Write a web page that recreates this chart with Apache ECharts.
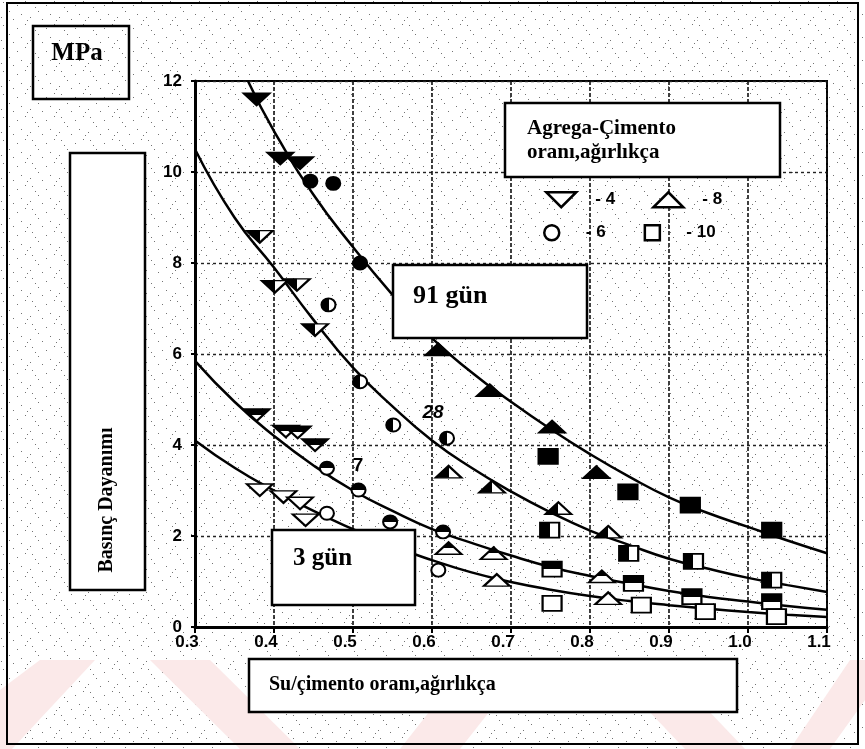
<!DOCTYPE html>
<html><head><meta charset="utf-8">
<script src="https://cdn.jsdelivr.net/npm/echarts@6/dist/echarts.min.js"></script>
<style>html,body{margin:0;padding:0;background:#fff}#c{width:865px;height:749px}</style>
</head><body><div id="c"></div>
<script>
// ---- tick labels ----
const xTickLabels = ['0.3','0.4','0.5','0.6','0.7','0.8','0.9','1.0','1.1'];
const yTickLabels = ['0','2','4','6','8','10','12'];

// ---- fitted curves ----
const curveX = [0.30,0.35,0.40,0.45,0.50,0.55,0.60,0.65,0.70,0.75,0.80,0.85,0.90,0.95,1.00,1.05,1.10];
const c91X = [0.367,0.40,0.45,0.50,0.55,0.60,0.65,0.70,0.75,0.80,0.85,0.90,0.95,1.00,1.05,1.10];
const c91Y = [12.0,10.9,9.5,8.35,7.3,6.35,5.6,4.95,4.35,3.8,3.3,2.85,2.5,2.2,1.9,1.62];
const c28Y = [10.5,9.0,7.9,6.75,5.7,4.85,4.1,3.5,2.98,2.52,2.12,1.8,1.5,1.28,1.08,0.92,0.77];
const c7Y  = [5.85,4.95,4.2,3.55,3.0,2.55,2.15,1.85,1.57,1.32,1.12,0.95,0.79,0.66,0.56,0.46,0.38];
const c3Y  = [4.1,3.5,3.0,2.55,2.15,1.78,1.47,1.2,0.99,0.82,0.68,0.57,0.48,0.4,0.33,0.27,0.22];

// ---- measured points: [w/c, MPa] by age (days) and aggregate/cement ratio ----
const m91_r4  = [[0.378,11.6],[0.408,10.3],[0.433,10.2]];
const m91_r6  = [[0.446,9.8],[0.475,9.75],[0.509,8.0]];
const m91_r8  = [[0.608,6.1],[0.673,5.2],[0.752,4.4],[0.808,3.4]];
const m91_r10 = [[0.747,3.75],[0.848,2.97],[0.927,2.68],[1.03,2.13]];

const m28_r4  = [[0.382,8.58],[0.401,7.48],[0.429,7.52],[0.452,6.53]];
const m28_r6  = [[0.469,7.08],[0.509,5.39],[0.551,4.44],[0.619,4.15]];
const m28_r8  = [[0.621,3.41],[0.676,3.08],[0.76,2.61],[0.823,2.09]];
const m28_r10 = [[0.749,2.13],[0.849,1.62],[0.931,1.44],[1.03,1.03]];

const m7_r4  = [[0.378,4.66],[0.415,4.3],[0.43,4.28],[0.452,4.0]];
const m7_r6  = [[0.467,3.49],[0.507,3.01],[0.547,2.31],[0.614,2.09]];
const m7_r8  = [[0.621,1.73],[0.678,1.62],[0.815,1.11]];
const m7_r10 = [[0.752,1.27],[0.855,0.96],[0.929,0.67],[1.03,0.56]];

const m3_r4  = [[0.382,3.01],[0.412,2.86],[0.433,2.72],[0.44,2.35]];
const m3_r6  = [[0.467,2.5],[0.608,1.25]];
const m3_r8  = [[0.682,1.03],[0.823,0.63]];
const m3_r10 = [[0.752,0.52],[0.865,0.48],[0.946,0.34],[1.036,0.23]];

// ---- build ----
const zip = (xs, ys) => xs.map((x, i) => [x, ys[i]]);
const DOWN = 'path://M0,0L2,0L1,1Z';
const UP = 'path://M1,0L2,1L0,1Z';
const SQ = 'path://M0,0L1,0L1,1L0,1Z';
const symbols = {
  '4':  {symbol: DOWN, size: [26, 12]},
  '6':  {symbol: 'circle', size: [14, 13]},
  '8':  {symbol: UP, size: [26, 12]},
  '10': {symbol: SQ, size: [19, 15]}
};
const split = (x2, y2) => ({type: 'linear', x: 0, y: 0, x2: x2, y2: y2, colorStops: [
  {offset: 0, color: '#000'}, {offset: 0.5, color: '#000'},
  {offset: 0.5, color: '#fff'}, {offset: 1, color: '#fff'}]});
const fills = {'91': '#000', '28': split(1, 0), '7': split(0, 1), '3': '#fff'};
const groups = [
  ['91', {'4': m91_r4, '6': m91_r6, '8': m91_r8, '10': m91_r10}],
  ['28', {'4': m28_r4, '6': m28_r6, '8': m28_r8, '10': m28_r10}],
  ['7',  {'4': m7_r4,  '6': m7_r6,  '8': m7_r8,  '10': m7_r10}],
  ['3',  {'4': m3_r4,  '6': m3_r6,  '8': m3_r8,  '10': m3_r10}]
];

const lineStyle = {color: '#000', width: 2.5};
const series = [
  {type: 'line', name: 'c91', data: zip(c91X, c91Y), smooth: true, symbol: 'none', lineStyle, silent: true, z: 3},
  {type: 'line', name: 'c28', data: zip(curveX, c28Y), smooth: true, symbol: 'none', lineStyle, silent: true, z: 3},
  {type: 'line', name: 'c7',  data: zip(curveX, c7Y),  smooth: true, symbol: 'none', lineStyle, silent: true, z: 3},
  {type: 'line', name: 'c3',  data: zip(curveX, c3Y),  smooth: true, symbol: 'none', lineStyle, silent: true, z: 3}
];
groups.forEach(([age, byRatio]) => {
  Object.keys(byRatio).forEach(r => {
    series.push({
      type: 'scatter', name: r, data: byRatio[r],
      symbol: symbols[r].symbol, symbolSize: symbols[r].size,
      itemStyle: {color: fills[age], borderColor: '#000', borderWidth: 2, opacity: 1},
      z: 4
    });
  });
});

const legendBase = {
  orient: 'horizontal', itemWidth: 30, itemHeight: 15, itemGap: 37,
  selectedMode: false, formatter: '- {name}',
  textStyle: {fontFamily: 'Liberation Sans', fontWeight: 'bold', fontSize: 17, color: '#000', padding: [0, 0, 0, 14]},
  itemStyle: {color: '#fff', borderColor: '#000', borderWidth: 2.5}
};

// faint scan speckle (decorative background texture)
const speck = document.createElement('canvas');
speck.width = 29; speck.height = 23;
(function () {
  const g = speck.getContext('2d');
  g.fillStyle = '#fff'; g.fillRect(0, 0, 29, 23);
  g.fillStyle = 'rgba(0,0,0,0.55)';
  [[3,2],[17,5],[25,1],[9,11],[21,14],[1,17],[13,19],[27,20],[6,7]].forEach(p => g.fillRect(p[0], p[1], 1, 1));
})();

const box = (x, y, w, h, fill) => ({type: 'rect', z: 100, shape: {x, y, width: w, height: h},
  style: {fill: fill || '#fff', stroke: '#000', lineWidth: 2.5}});
const txt = (x, y, text, size) => ({type: 'text', z: 101, x, y,
  style: {text, fill: '#000', font: 'bold ' + size + 'px "Liberation Serif"', textVerticalAlign: 'middle'}});

const pink = '#fbe9e9';
const stripe = (pts) => ({type: 'polygon', z: -1, silent: true, shape: {points: pts}, style: {fill: pink}});

const chart = echarts.init(document.getElementById('c'), null, {renderer: 'canvas'});
chart.setOption({
  animation: false,
  backgroundColor: {image: speck, repeat: 'repeat'},
  grid: {left: 195, top: 81, right: 38, bottom: 122, show: true, borderColor: '#000', borderWidth: 2, backgroundColor: 'transparent'},
  xAxis: {
    type: 'value', min: 0.3, max: 1.1, interval: 0.1,
    axisLine: {lineStyle: {color: '#000', width: 3}},
    axisTick: {show: true, length: 6, lineStyle: {color: '#000', width: 2}},
    axisLabel: {color: '#000', fontFamily: 'Liberation Sans', fontWeight: 'bold', fontSize: 17, margin: 7,
      padding: [0, 16, 0, 0],
      formatter: v => xTickLabels[Math.round((v - 0.3) / 0.1)]},
    splitLine: {show: true, lineStyle: {color: '#111', width: 1.6, type: [4, 2]}}
  },
  yAxis: {
    type: 'value', min: 0, max: 12, interval: 2,
    axisLine: {show: true, lineStyle: {color: '#000', width: 3}},
    axisTick: {show: true, length: 4, lineStyle: {color: '#000', width: 2}},
    axisLabel: {color: '#000', fontFamily: 'Liberation Sans', fontWeight: 'bold', fontSize: 17, margin: 13,
      formatter: v => yTickLabels[Math.round(v / 2)]},
    splitLine: {show: true, lineStyle: {color: '#222', width: 1.4, type: [3, 3]}}
  },
  legend: [
    Object.assign({}, legendBase, {left: 540, top: 186, data: [{name: '4', icon: DOWN}, {name: '8', icon: UP}]}),
    Object.assign({}, legendBase, {left: 538, top: 219, itemGap: 38, data: [{name: '6', icon: 'circle'}, {name: '10', icon: SQ}]})
  ],
  graphic: [
    stripe([[0,690],[40,660],[95,660],[12,749],[0,749]]),
    stripe([[150,660],[210,660],[300,749],[240,749]]),
    stripe([[400,749],[470,660],[530,660],[460,749]]),
    stripe([[600,660],[660,660],[745,749],[685,749]]),
    stripe([[790,749],[850,660],[865,660],[865,700],[830,749]]),
    {type: 'rect', z: 100, shape: {x: 7, y: 3, width: 851, height: 741}, style: {fill: 'none', stroke: '#000', lineWidth: 2}},
    box(33, 26, 96, 73, 'none'),
    {type: 'text', z: 101, x: 77, y: 54, style: {text: 'MPa', fill: '#000', font: 'bold 25px "Liberation Serif"', textAlign: 'center', textVerticalAlign: 'middle'}},
    box(70, 153, 75, 437),
    {type: 'text', z: 101, x: 107, y: 500, rotation: Math.PI / 2,
      style: {text: 'Basınç Dayanımı', fill: '#000', font: 'bold 20px "Liberation Serif"', textAlign: 'center', textVerticalAlign: 'middle'}},
    box(505, 103, 275, 74),
    txt(527, 129, 'Agrega-Çimento', 21), txt(527, 153, 'oranı,ağırlıkça', 21),
    box(393, 265, 194, 73), txt(413, 296, '91 gün', 26),
    box(272, 530, 143, 75), txt(293, 559, '3 gün', 25),
    box(249, 659, 488, 53), txt(269, 685, 'Su/çimento oranı,ağırlıkça', 20),
    {type: 'text', z: 101, x: 433, y: 413, style: {text: '28', fill: '#000', font: 'bold italic 19px "Liberation Sans"', textAlign: 'center', textVerticalAlign: 'middle'}},
    {type: 'text', z: 101, x: 358, y: 466, style: {text: '7', fill: '#000', font: 'bold 19px "Liberation Sans"', textAlign: 'center', textVerticalAlign: 'middle'}}
  ],
  series
});
</script>
</body></html>
